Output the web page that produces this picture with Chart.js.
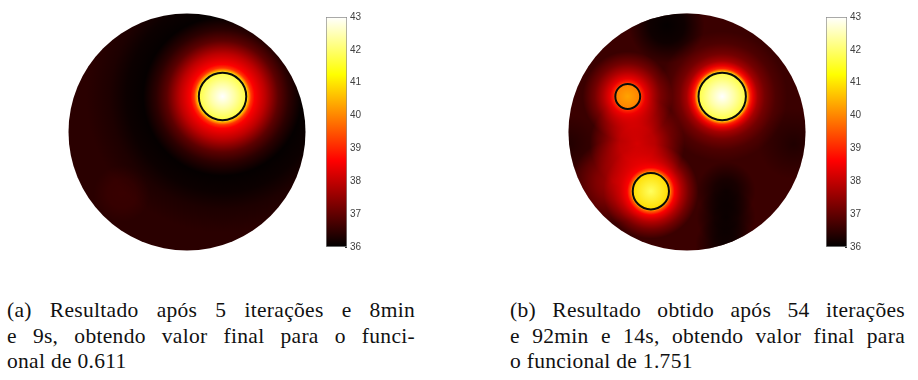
<!DOCTYPE html>
<html>
<head>
<meta charset="utf-8">
<script src="https://cdn.jsdelivr.net/npm/chart.js@4.4.1/dist/chart.umd.min.js"></script>
<style>
  body { margin: 0; background: #fff; width: 918px; height: 380px; position: relative; overflow: hidden; }
  canvas { position: absolute; }
  .cap { position: absolute; top: 298px; font-family: "Liberation Serif", serif; font-size: 21.5px;
         line-height: 25.5px; color: #111; letter-spacing: 0.3px; }
  .cap div { text-align: justify; text-align-last: justify; }
  .cap div.last { text-align-last: left; }
</style>
</head>
<body>
<canvas id="discA" width="250" height="250" style="left:62px;top:7px"></canvas>
<canvas id="barA" width="43" height="252" style="left:326px;top:6px"></canvas>
<canvas id="discB" width="250" height="250" style="left:562px;top:7px"></canvas>
<canvas id="barB" width="43" height="252" style="left:826px;top:6px"></canvas>

<div class="cap" style="left:7px;width:408px">
  <div>(a) Resultado após 5 iterações e 8min</div>
  <div>e 9s, obtendo valor final para o funci-</div>
  <div class="last">onal de 0.611</div>
</div>
<div class="cap" style="left:510px;width:395px">
  <div>(b) Resultado obtido após 54 iterações</div>
  <div>e 92min e 14s, obtendo valor final para</div>
  <div class="last">o funcional de 1.751</div>
</div>

<script>
// colour scale (temperature)
const tempTicks = [36, 37, 38, 39, 40, 41, 42, 43];

// (a) heat sources, disc of radius 1
const srcAX = [0.3];
const srcAY = [0.3];
const srcAR = [0.2];
// (a) field layers: first one is the background field around the source
const fieldAX = [0.3, -0.55];
const fieldAY = [0.3, -0.52];
const fieldAReach = [1.45, 0.24];
const fieldAD = [
  [0, 0.1, 0.2, 0.215, 0.24, 0.27, 0.36, 0.47, 0.56, 0.67, 0.81, 0.95, 1.15, 1.45],
  [0, 0.12, 0.24]
];
const fieldAT = [
  [43, 42.4, 41.7, 40.5, 39.2, 38.6, 37.95, 36.95, 36.45, 36.05, 36.12, 36.3, 36.43, 36.43],
  [36.58, 36.55, 36.43]
];

// (b) heat sources
const srcBX = [0.297, -0.5, -0.305];
const srcBY = [0.3, 0.3, -0.5];
const srcBR = [0.2, 0.105, 0.153];
// (b) field layers: base, cold spots, red bands, glow of each source
const fieldBX = [0, -0.17, 0.33, 0.33, 0.32, 0.9, -1.0, -0.42, -0.62, 0.297, -0.5, -0.305];
const fieldBY = [0, 0.9, -0.5, -0.72, -0.95, -0.1, -0.1, -0.1, -0.42, 0.3, 0.3, -0.5];
const fieldBReach = [1.2, 0.32, 0.25, 0.25, 0.25, 0.3, 0.25, 0.4, 0.35, 0.55, 0.38, 0.4];
const fieldBD = [
  [0, 1.2],
  [0, 0.15, 0.32],
  [0, 0.1, 0.25], [0, 0.1, 0.25], [0, 0.1, 0.25],
  [0, 0.3],
  [0, 0.25],
  [0, 0.15, 0.28, 0.4],
  [0, 0.15, 0.35],
  [0, 0.1, 0.2, 0.215, 0.235, 0.26, 0.3, 0.36, 0.45, 0.55],
  [0, 0.105, 0.12, 0.15, 0.21, 0.28, 0.38],
  [0, 0.153, 0.17, 0.2, 0.26, 0.32, 0.4]
];
const fieldBT = [
  [36.6, 36.6],
  [36.05, 36.15, 36.6],
  [36.15, 36.25, 36.6], [36.12, 36.22, 36.6], [36.15, 36.25, 36.6],
  [36.33, 36.6],
  [36.35, 36.6],
  [38.2, 37.9, 37.2, 36.6],
  [37.7, 37.3, 36.6],
  [43, 42.4, 41.7, 40.3, 39.0, 38.4, 37.7, 37.2, 36.8, 36.6],
  [40.3, 39.95, 39.0, 38.4, 37.8, 37.2, 36.6],
  [41.9, 40.9, 39.6, 38.6, 37.8, 37.2, 36.6]
];

const LIM = 125 / 118.5;
const TMIN = 36, TMAX = 43;
const RED_T = TMIN + 0.375 * (TMAX - TMIN);

function clamp(v) { return Math.min(1, Math.max(0, v)); }

// matlab "hot" colormap
function hotRGB(T) {
  const t = clamp((T - TMIN) / (TMAX - TMIN));
  return [
    Math.round(255 * clamp(t / 0.375)),
    Math.round(255 * clamp((t - 0.375) / 0.375)),
    Math.round(255 * clamp((t - 0.75) / 0.25))
  ];
}
function hot(T) { return 'rgb(' + hotRGB(T).join(',') + ')'; }

// stop colour [r,g,b,a], drawn on top of the base field
function stopRGBA(T, base, opaque) {
  if (opaque || T >= RED_T) return hotRGB(T).concat(1);
  if (T >= base) return [255, 0, 0, clamp((T - base) / (RED_T - base))];
  return [0, 0, 0, clamp((base - T) / (base - TMIN))];
}

function pxLen(chart, d) {
  const s = chart.scales.x;
  const v = Math.abs(s.getPixelForValue(d) - s.getPixelForValue(0));
  return isFinite(v) ? v : 0;
}

const discClip = {
  id: 'discClip',
  beforeDatasetsDraw(chart) {
    const c = chart.ctx;
    const cx = chart.scales.x.getPixelForValue(0);
    const cy = chart.scales.y.getPixelForValue(0);
    c.save();
    c.beginPath();
    c.arc(cx, cy, pxLen(chart, 1), 0, 2 * Math.PI);
    c.clip();
  },
  afterDatasetsDraw(chart) {
    chart.ctx.restore();
  }
};

function makeDisc(id, fx, fy, reach, fd, ft, sx, sy, sr) {
  const base = ft[0][ft[0].length - 1];
  const layers = fx.map((x, i) => ({ x: x, y: fy[i], reach: reach[i], d: fd[i], t: ft[i], layer: i }));
  const sources = sx.map((x, i) => ({ x: x, y: sy[i], rad: sr[i] }));

  new Chart(document.getElementById(id), {
    type: 'scatter',
    data: {
      datasets: [
        {
          data: sources,
          order: 0,
          pointRadius: ctx => ctx.raw ? pxLen(ctx.chart, ctx.raw.rad) : 0,
          pointHoverRadius: ctx => ctx.raw ? pxLen(ctx.chart, ctx.raw.rad) : 0,
          pointBackgroundColor: 'rgba(0,0,0,0)',
          pointBorderColor: '#0a0a0a',
          pointBorderWidth: 2
        },
        {
          data: layers,
          order: 1,
          pointRadius: ctx => ctx.raw ? pxLen(ctx.chart, ctx.raw.reach) : 0,
          pointHoverRadius: ctx => ctx.raw ? pxLen(ctx.chart, ctx.raw.reach) : 0,
          pointBorderWidth: 0,
          pointBackgroundColor: ctx => {
            const p = ctx.raw;
            if (!p) return 'rgba(0,0,0,0)';
            const ch = ctx.chart;
            const cx = ch.scales.x.getPixelForValue(p.x);
            const cy = ch.scales.y.getPixelForValue(p.y);
            const R = pxLen(ch, p.reach);
            if (!isFinite(cx) || !isFinite(cy) || R <= 0) return 'rgba(0,0,0,0)';
            const cols = p.t.map(T => stopRGBA(T, base, p.layer === 0));
            // fully transparent stops take the rgb of their neighbour (no fringes)
            cols.forEach((c, k) => {
              if (c[3] === 0) {
                const nb = cols[k - 1] && cols[k - 1][3] > 0 ? cols[k - 1] : cols[k + 1];
                if (nb) cols[k] = [nb[0], nb[1], nb[2], 0];
              }
            });
            const g = ch.ctx.createRadialGradient(cx, cy, 0, cx, cy, R);
            p.d.forEach((d, k) => {
              const c = cols[k];
              g.addColorStop(clamp(d / p.reach), 'rgba(' + c[0] + ',' + c[1] + ',' + c[2] + ',' + c[3].toFixed(3) + ')');
            });
            return g;
          }
        }
      ]
    },
    options: {
      responsive: false,
      animation: false,
      events: [],
      layout: { padding: 0 },
      plugins: { legend: { display: false }, tooltip: { enabled: false } },
      scales: {
        x: { type: 'linear', min: -LIM, max: LIM, display: false },
        y: { type: 'linear', min: -LIM, max: LIM, display: false }
      }
    },
    plugins: [discClip]
  });
}

function makeColorbar(id) {
  new Chart(document.getElementById(id), {
    type: 'bar',
    data: {
      labels: ['T'],
      datasets: [{
        data: [[tempTicks[0], tempTicks[tempTicks.length - 1]]],
        backgroundColor: ctx => {
          const area = ctx.chart.chartArea;
          if (!area) return 'rgba(0,0,0,0)';
          const g = ctx.chart.ctx.createLinearGradient(0, area.bottom, 0, area.top);
          g.addColorStop(0, hot(TMIN));
          g.addColorStop(0.375, hot(RED_T));
          g.addColorStop(0.75, hot(TMIN + 0.75 * (TMAX - TMIN)));
          g.addColorStop(1, hot(TMAX));
          return g;
        },
        borderColor: '#8c8c8c',
        borderWidth: 1,
        borderSkipped: false,
        barPercentage: 1,
        categoryPercentage: 1
      }]
    },
    options: {
      responsive: false,
      animation: false,
      events: [],
      layout: { padding: { top: 8, bottom: 8, left: 0, right: 0 } },
      plugins: { legend: { display: false }, tooltip: { enabled: false } },
      scales: {
        x: { display: false },
        y: {
          position: 'right',
          min: TMIN,
          max: TMAX,
          z: 1,
          afterFit: s => { s.width = 22; },
          afterBuildTicks: s => { s.ticks = tempTicks.map(v => ({ value: v })); },
          border: { display: false },
          grid: { drawOnChartArea: false, drawTicks: true, tickLength: -2, color: '#333' },
          ticks: { color: '#404040', padding: 5, font: { family: 'Liberation Sans', size: 10 } }
        }
      }
    }
  });
}

makeDisc('discA', fieldAX, fieldAY, fieldAReach, fieldAD, fieldAT, srcAX, srcAY, srcAR);
makeDisc('discB', fieldBX, fieldBY, fieldBReach, fieldBD, fieldBT, srcBX, srcBY, srcBR);
makeColorbar('barA');
makeColorbar('barB');
</script>
</body>
</html>
